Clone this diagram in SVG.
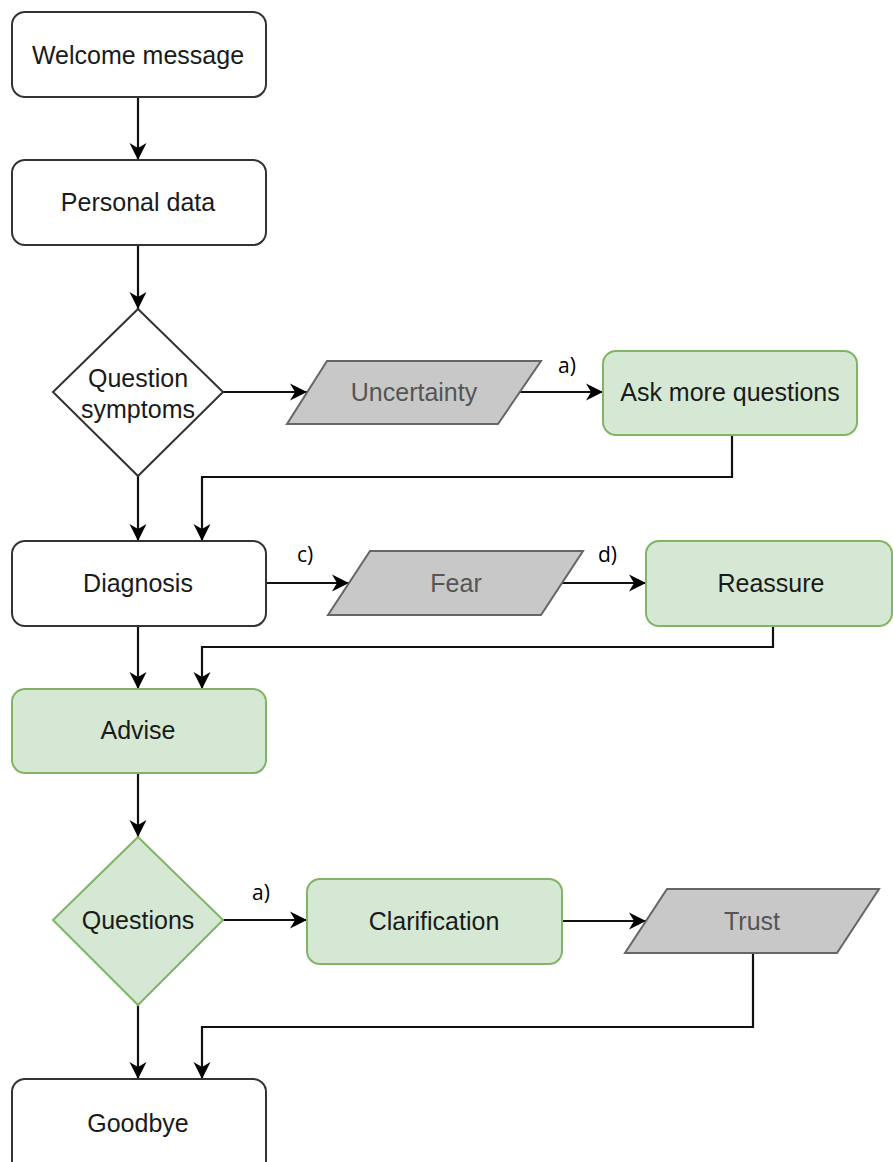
<svg xmlns="http://www.w3.org/2000/svg" width="893" height="1162" viewBox="0 0 893 1162">
  <style>
    .plain { fill: #ffffff; stroke: #333333; stroke-width: 2; }
    .green { fill: #d5e8d4; stroke: #82b366; stroke-width: 2; }
    .grey { fill: #c8c8c8; stroke: #666666; stroke-width: 2; }
    .lbl { font-family: "Liberation Sans", Arial, sans-serif; font-size: 25px; fill: #1a1a1a; text-anchor: middle; dominant-baseline: central; }
    .lbl-grey { fill: #555555; }
    .edge { fill: none; stroke: #111111; stroke-width: 2.2; }
    .tag { font-family: "Open Sans", "Liberation Sans", sans-serif; font-size: 21px; fill: #000000; }
  </style>
  <defs>
    <marker id="arrow" markerUnits="userSpaceOnUse" markerWidth="18" markerHeight="18" refX="17" refY="9" orient="auto">
      <path d="M0,0.5 L17,9 L0,17.5 L5,9 Z" fill="#000000"/>
    </marker>
  </defs>
  <rect width="893" height="1162" fill="#ffffff"/>

  <!-- connectors -->
  <g id="connectors">
    <path class="edge" d="M138,97 V160" marker-end="url(#arrow)"/>
    <path class="edge" d="M138,245 V309" marker-end="url(#arrow)"/>
    <path class="edge" d="M223,392 H307" marker-end="url(#arrow)"/>
    <path class="edge" d="M520,392 H603" marker-end="url(#arrow)"/>
    <path class="edge" d="M732,435 V477 H202 V541" marker-end="url(#arrow)"/>
    <path class="edge" d="M138,476 V541" marker-end="url(#arrow)"/>
    <path class="edge" d="M266,583 H349" marker-end="url(#arrow)"/>
    <path class="edge" d="M562,583 H646" marker-end="url(#arrow)"/>
    <path class="edge" d="M773,626 V647 H202 V689" marker-end="url(#arrow)"/>
    <path class="edge" d="M138,626 V689" marker-end="url(#arrow)"/>
    <path class="edge" d="M138,773 V837" marker-end="url(#arrow)"/>
    <path class="edge" d="M223,920 H307" marker-end="url(#arrow)"/>
    <path class="edge" d="M562,921 H646" marker-end="url(#arrow)"/>
    <path class="edge" d="M753,953 V1027 H202 V1079" marker-end="url(#arrow)"/>
    <path class="edge" d="M138,1005 V1079" marker-end="url(#arrow)"/>
    <text class="tag" x="558" y="373">a)</text>
    <text class="tag" x="297" y="562">c)</text>
    <text class="tag" x="598" y="562">d)</text>
    <text class="tag" x="252" y="900">a)</text>
  </g>

  <g id="welcome">
    <rect class="plain" x="12" y="12" width="254" height="85" rx="13"/>
    <text class="lbl" x="138" y="55">Welcome message</text>
  </g>
  <g id="personal-data">
    <rect class="plain" x="12" y="160" width="254" height="85" rx="13"/>
    <text class="lbl" x="138" y="202">Personal data</text>
  </g>
  <g id="question-symptoms">
    <polygon class="plain" points="138,309 223,392 138,476 53,392"/>
    <text class="lbl" x="138" y="378">Question</text>
    <text class="lbl" x="138" y="409">symptoms</text>
  </g>
  <g id="uncertainty">
    <polygon class="grey" points="327,361 541,361 498,424 287,424"/>
    <text class="lbl lbl-grey" x="414" y="392">Uncertainty</text>
  </g>
  <g id="ask-more-questions">
    <rect class="green" x="603" y="351" width="254" height="84" rx="13"/>
    <text class="lbl" x="730" y="392">Ask more questions</text>
  </g>
  <g id="diagnosis">
    <rect class="plain" x="12" y="541" width="254" height="85" rx="13"/>
    <text class="lbl" x="138" y="583">Diagnosis</text>
  </g>
  <g id="fear">
    <polygon class="grey" points="370,551 583,551 541,615 328,615"/>
    <text class="lbl lbl-grey" x="456" y="583">Fear</text>
  </g>
  <g id="reassure">
    <rect class="green" x="646" y="541" width="246" height="85" rx="13"/>
    <text class="lbl" x="771" y="583">Reassure</text>
  </g>
  <g id="advise">
    <rect class="green" x="12" y="689" width="254" height="84" rx="13"/>
    <text class="lbl" x="138" y="730">Advise</text>
  </g>
  <g id="questions">
    <polygon class="green" points="138,837 223,920 138,1005 53,920"/>
    <text class="lbl" x="138" y="920">Questions</text>
  </g>
  <g id="clarification">
    <rect class="green" x="307" y="879" width="255" height="85" rx="13"/>
    <text class="lbl" x="434" y="921">Clarification</text>
  </g>
  <g id="trust">
    <polygon class="grey" points="667,889 879,889 837,953 625,953"/>
    <text class="lbl lbl-grey" x="752" y="921">Trust</text>
  </g>
  <g id="goodbye">
    <rect class="plain" x="12" y="1079" width="254" height="100" rx="13"/>
    <text class="lbl" x="138" y="1123">Goodbye</text>
  </g>
</svg>
